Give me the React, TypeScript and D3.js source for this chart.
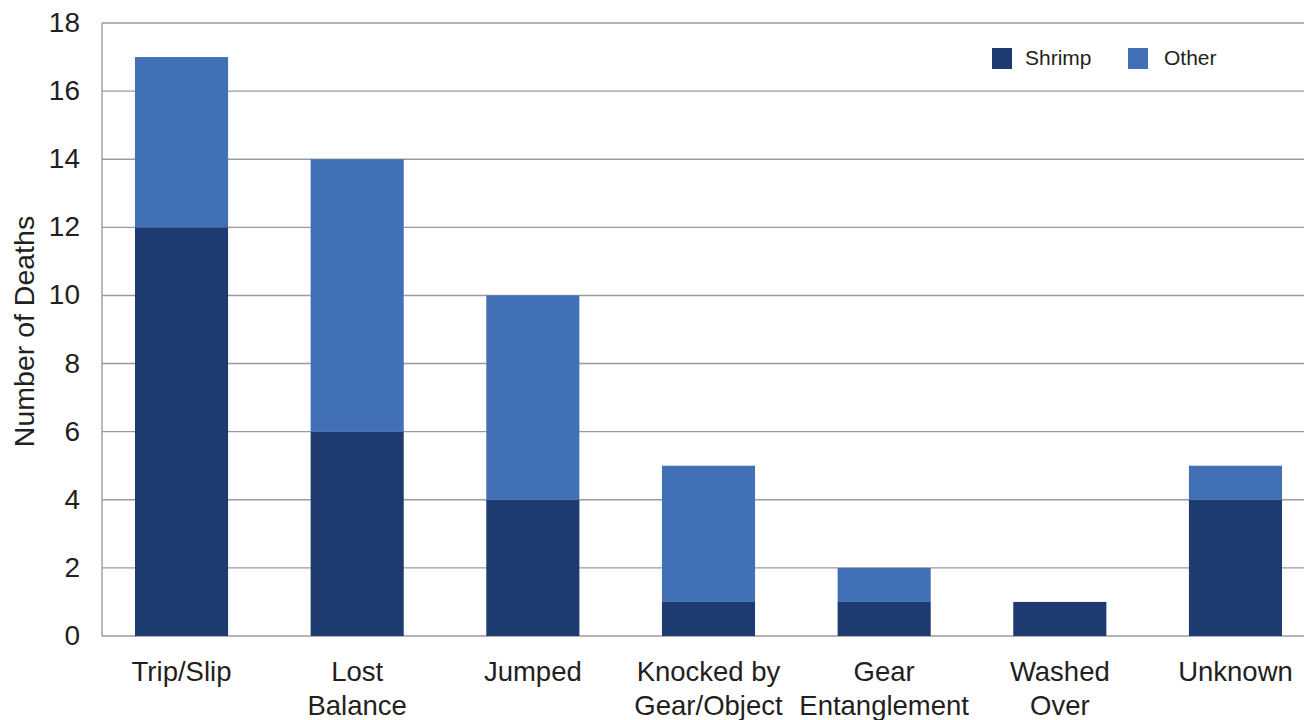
import React from "react";
import * as d3 from "d3";

const categories = [
  ["Trip/Slip"],
  ["Lost", "Balance"],
  ["Jumped"],
  ["Knocked by", "Gear/Object"],
  ["Gear", "Entanglement"],
  ["Washed", "Over"],
  ["Unknown"],
];
const shrimp = [12, 6, 4, 1, 1, 1, 4];
const other = [5, 8, 6, 4, 1, 0, 1];
const yTicks = [0, 2, 4, 6, 8, 10, 12, 14, 16, 18];
const seriesNames = ["Shrimp", "Other"];
const colors = ["#1e3b70", "#4270b6"];

export default function App() {
  const W = 1304, H = 720;
  const left = 102, right = 1304, top = 23, bottom = 636;
  const keys = categories.map((c) => c.join(" "));
  const x = d3
    .scaleBand<string>()
    .domain(keys)
    .range([93.7, 1323.3])
    .paddingInner(0.47)
    .paddingOuter(0.235);
  const y = d3.scaleLinear().domain([0, 18]).range([bottom, top]);
  const rows = keys.map((k, i) => ({ key: k, Shrimp: shrimp[i], Other: other[i] }));
  const stacked = d3.stack<any>().keys(seriesNames)(rows);
  const font = "'Liberation Sans', Arial, Helvetica, sans-serif";
  const textColor = "#231f20";
  const gridColor = "#9a9a9e";
  const legendX = [992, 1128];
  const legendTextDx = [33, 36];

  return (
    <svg width={W} height={H} style={{ position: "absolute", left: 0, top: 0 }} fontFamily={font}>
      <rect width={W} height={H} fill="#fff" />
      {yTicks.map((t) => (
        <g key={t}>
          <line x1={left} x2={right} y1={y(t)} y2={y(t)} stroke={gridColor} strokeWidth={1.4} />
          <text x={80} y={y(t) + 9} textAnchor="end" fontSize={28} fill={textColor}>
            {t}
          </text>
        </g>
      ))}
      <line x1={left} x2={left} y1={top} y2={bottom} stroke={gridColor} strokeWidth={1.4} />
      {stacked.map((s, si) => (
        <g key={s.key} fill={colors[si]}>
          {s.map((d, i) =>
            d[1] - d[0] > 0 ? (
              <rect
                key={i}
                x={x(keys[i])}
                width={x.bandwidth()}
                y={y(d[1])}
                height={y(d[0]) - y(d[1])}
              />
            ) : null
          )}
        </g>
      ))}
      {categories.map((lines, i) => (
        <text
          key={i}
          x={(x(keys[i]) as number) + x.bandwidth() / 2}
          y={681}
          textAnchor="middle"
          fontSize={27.5}
          fill={textColor}
        >
          {lines.map((l, j) => (
            <tspan key={j} x={(x(keys[i]) as number) + x.bandwidth() / 2} dy={j === 0 ? 0 : 34}>
              {l}
            </tspan>
          ))}
        </text>
      ))}
      <text
        transform={`translate(34, ${(top + bottom) / 2 + 2}) rotate(-90)`}
        textAnchor="middle"
        fontSize={28.5}
        fill={textColor}
      >
        Number of Deaths
      </text>
      {seriesNames.map((n, i) => (
        <g key={n} transform={`translate(${legendX[i]}, 48)`}>
          <rect width={20} height={21} fill={colors[i]} />
          <text x={legendTextDx[i]} y={17} fontSize={21} fill={textColor}>
            {n}
          </text>
        </g>
      ))}
    </svg>
  );
}
